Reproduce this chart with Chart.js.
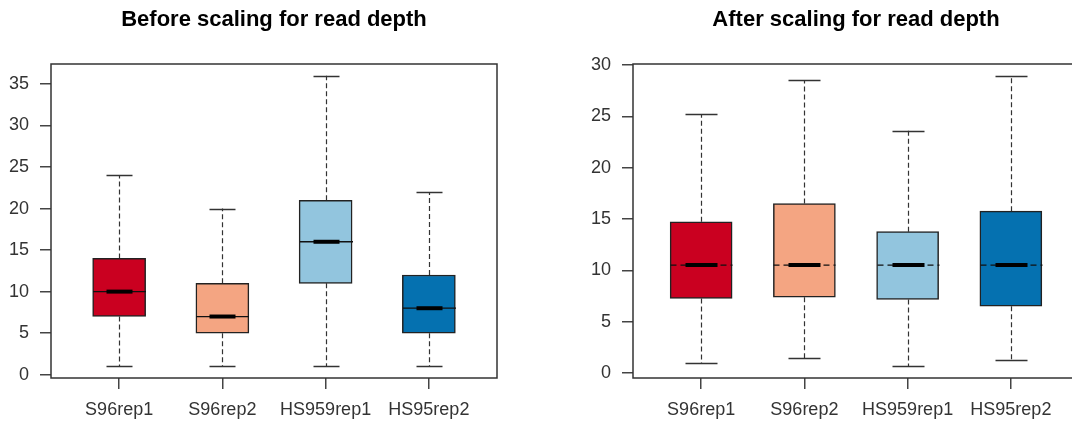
<!DOCTYPE html>
<html>
<head>
<meta charset="utf-8">
<script src="https://cdn.jsdelivr.net/npm/chart.js@4/dist/chart.umd.min.js"></script>
<style>
  html, body { margin: 0; padding: 0; background: #fff; width: 1072px; height: 421px; overflow: hidden; position: relative; }
  .panel { position: absolute; top: 0; }
</style>
</head>
<body>
<div class="panel" style="left:0px"><canvas id="beforeChart" width="536" height="421"></canvas></div>
<div class="panel" style="left:536px"><canvas id="afterChart" width="560" height="421"></canvas></div>
<script>
const categories = ['S96rep1', 'S96rep2', 'HS959rep1', 'HS95rep2'];
const boxColors = ['#CA0020', '#F4A582', '#92C5DE', '#0571B0'];

// before scaling
const beforeMin = [1, 1, 1, 1];
const beforeQ1 = [7, 5, 11, 5];
const beforeMedian = [10, 7, 16, 8];
const beforeQ3 = [14, 11, 21, 12];
const beforeMax = [24, 20, 36, 22];
const beforeTicks = [0, 5, 10, 15, 20, 25, 30, 35];

// after scaling
const afterMin = [0.97, 1.42, 0.65, 1.3];
const afterQ1 = [7.25, 7.38, 7.16, 6.5];
const afterMedian = [10.5, 10.5, 10.5, 10.5];
const afterQ3 = [14.72, 16.5, 13.76, 15.76];
const afterMax = [25.2, 28.5, 23.6, 28.97];
const afterTicks = [0, 5, 10, 15, 20, 25, 30];

const xPositions = [1, 2, 3, 4];

Chart.defaults.font.family = "'Liberation Sans', Arial, sans-serif";

// whiskers, caps, medians and the frame round the plot
const boxParts = {
  id: 'boxParts',
  beforeDatasetsDraw(chart, _, o) {
    const ctx = chart.ctx, x = chart.scales.x, y = chart.scales.y;
    ctx.save();
    ctx.strokeStyle = '#333';
    ctx.lineWidth = 1.2;
    ctx.setLineDash([5, 3]);
    xPositions.forEach((p, i) => {
      const px = Math.round(x.getPixelForValue(p)) + 0.5;
      ctx.beginPath();
      ctx.moveTo(px, y.getPixelForValue(o.q3[i]));
      ctx.lineTo(px, y.getPixelForValue(o.max[i]));
      ctx.moveTo(px, y.getPixelForValue(o.q1[i]));
      ctx.lineTo(px, y.getPixelForValue(o.min[i]));
      ctx.stroke();
    });
    ctx.restore();
  },
  afterDatasetsDraw(chart, _, o) {
    const ctx = chart.ctx, x = chart.scales.x, y = chart.scales.y;
    ctx.save();
    xPositions.forEach((p, i) => {
      const px = Math.round(x.getPixelForValue(p)) + 0.5;
      // caps
      ctx.strokeStyle = '#333';
      ctx.lineWidth = 1.5;
      ctx.setLineDash([]);
      [o.max[i], o.min[i]].forEach(v => {
        const py = Math.round(y.getPixelForValue(v)) + 0.5;
        ctx.beginPath();
        ctx.moveTo(px - o.capHalf, py);
        ctx.lineTo(px + o.capHalf, py);
        ctx.stroke();
      });
      // median: thin line across the box, thick short bar in the middle
      const my = y.getPixelForValue(o.median[i]);
      ctx.strokeStyle = '#111';
      ctx.lineWidth = 1.3;
      ctx.setLineDash(o.medianDash);
      ctx.beginPath();
      ctx.moveTo(px - o.boxHalf, my);
      ctx.lineTo(px + o.boxHalf, my);
      ctx.stroke();
      ctx.setLineDash([]);
      ctx.strokeStyle = '#000';
      ctx.lineWidth = 4;
      ctx.beginPath();
      ctx.moveTo(px - o.capHalf, my);
      ctx.lineTo(px + o.capHalf, my);
      ctx.stroke();
    });
    const a = chart.chartArea;
    ctx.strokeStyle = '#333';
    ctx.lineWidth = 1.5;
    ctx.setLineDash([]);
    ctx.strokeRect(a.left, a.top, a.right - a.left, a.bottom - a.top);
    ctx.restore();
  }
};

function makeBoxChart(id, title, q1, q3, mins, maxs, medians, tickValues, yMin, yMax, yWidth, padRight, boxWidth, capHalf, medianDash) {
  return new Chart(id, {
    type: 'bar',
    data: {
      datasets: [{
        data: xPositions.map((p, i) => ({ x: p, y: [q1[i], q3[i]] })),
        backgroundColor: boxColors,
        borderColor: '#222',
        borderWidth: 1.5,
        borderSkipped: false,
        barThickness: boxWidth
      }]
    },
    plugins: [boxParts],
    options: {
      responsive: false,
      animation: false,
      events: [],
      layout: { padding: { left: 0, right: padRight, top: 0, bottom: 0 } },
      plugins: {
        legend: { display: false },
        tooltip: { enabled: false },
        title: {
          display: true,
          fullSize: false,
          text: title,
          color: '#000',
          font: { size: 22, weight: 'bold' },
          padding: { top: 7, bottom: 30.6 }
        },
        boxParts: {
          q1: q1, q3: q3, min: mins, max: maxs, median: medians,
          capHalf: capHalf, boxHalf: boxWidth / 2, medianDash: medianDash
        }
      },
      scales: {
        x: {
          type: 'linear',
          min: 0.34,
          max: 4.66,
          offset: false,
          afterBuildTicks: s => { s.ticks = xPositions.map(v => ({ value: v })); },
          afterFit: s => { s.height = 43; },
          border: { display: false },
          grid: { offset: false, drawOnChartArea: false, drawTicks: true, tickLength: 11, tickColor: '#444', lineWidth: 1.5 },
          ticks: {
            color: '#333',
            font: { size: 18 },
            padding: 10,
            maxRotation: 0,
            autoSkip: false,
            callback: v => categories[v - 1]
          }
        },
        y: {
          min: yMin,
          max: yMax,
          afterBuildTicks: s => { s.ticks = tickValues.map(v => ({ value: v })); },
          afterFit: s => { s.width = yWidth; },
          border: { display: false },
          grid: { drawOnChartArea: false, drawTicks: true, tickLength: 11, tickColor: '#444', lineWidth: 1.5 },
          ticks: { color: '#333', font: { size: 18 }, padding: 11 }
        }
      }
    }
  });
}

makeBoxChart('beforeChart', 'Before scaling for read depth',
  beforeQ1, beforeQ3, beforeMin, beforeMax, beforeMedian, beforeTicks,
  -0.4, 37.4, 51, 39, 53, 13, []);

makeBoxChart('afterChart', 'After scaling for read depth',
  afterQ1, afterQ3, afterMin, afterMax, afterMedian, afterTicks,
  -0.5, 30.1, 97, 17, 62, 16, [6, 4]);
</script>
</body>
</html>
